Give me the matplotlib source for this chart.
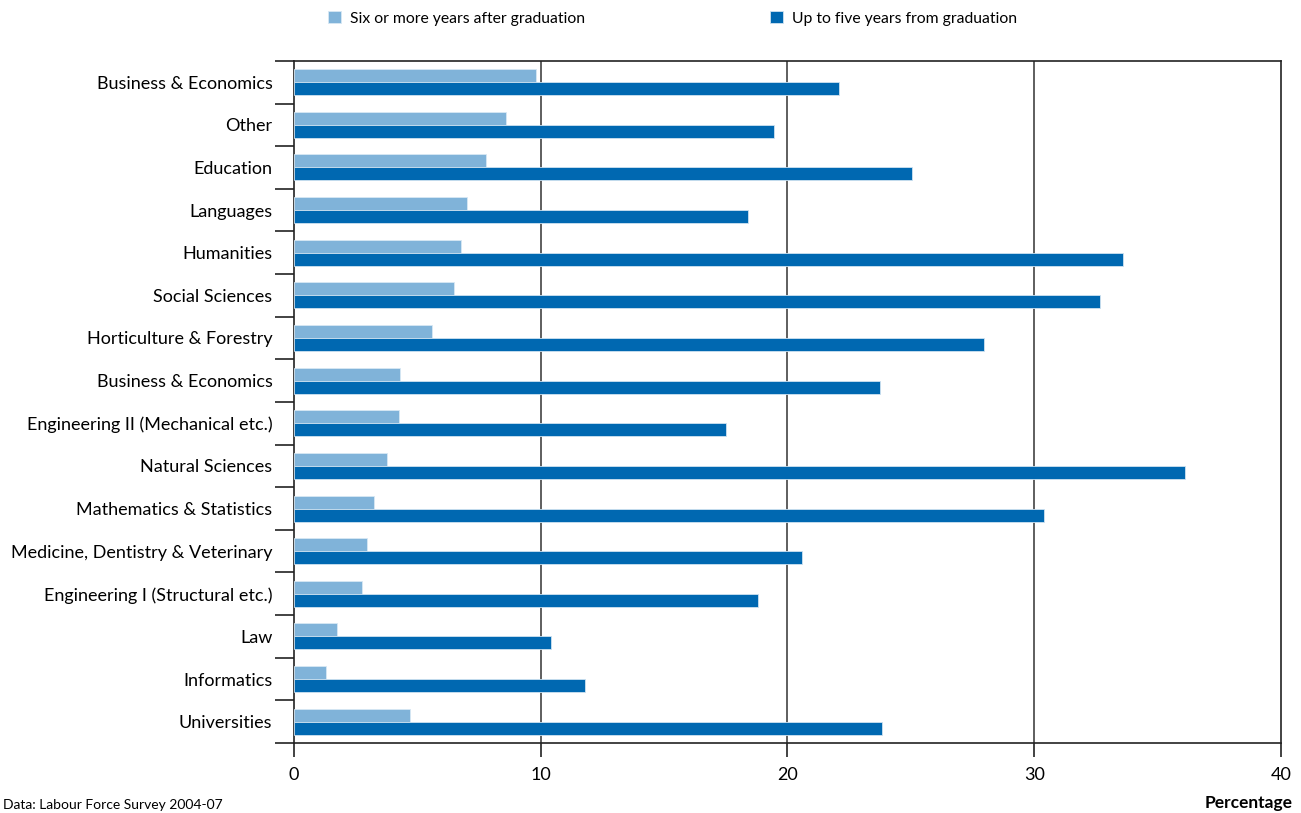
import matplotlib.pyplot as plt
import numpy as np

plt.rcParams['font.family'] = ['Lato', 'DejaVu Sans']

categories = ["Business & Economics", "Other", "Education", "Languages", "Humanities",
              "Social Sciences", "Horticulture & Forestry", "Business & Economics",
              "Engineering II (Mechanical etc.)", "Natural Sciences",
              "Mathematics & Statistics", "Medicine, Dentistry & Veterinary",
              "Engineering I (Structural etc.)", "Law", "Informatics", "Universities"]
six_plus = [9.8, 8.6, 7.8, 7.0, 6.75, 6.5, 5.6, 4.3, 4.25, 3.75,
            3.25, 2.95, 2.75, 1.75, 1.3, 4.7]
up_to_five = [22.1, 19.45, 25.05, 18.4, 33.6, 32.65, 27.95, 23.75, 17.5, 36.1,
              30.4, 20.6, 18.8, 10.4, 11.8, 23.85]
xticks = [0, 10, 20, 30, 40]

light = '#80b3d9'
dark = '#0068b1'

fig = plt.figure(figsize=(13.01, 8.13), dpi=100)
ax = fig.add_axes([0.226, 0.0861, 0.7586, 0.839])

y = np.arange(len(categories))
h = 0.305
ax.barh(y - h / 2, six_plus, height=h, color=light, edgecolor='#d8e8f4', linewidth=0.6,
        label='Six or more years after graduation', zorder=3)
ax.barh(y + h / 2, up_to_five, height=h, color=dark, edgecolor='#cfe2f1', linewidth=0.6,
        label='Up to five years from graduation', zorder=3)

ax.set_xlim(0, 40)
ax.set_ylim(len(categories) - 0.5, -0.5)
ax.set_xticks(xticks)
ax.set_xticklabels([str(t) for t in xticks], fontsize=13)
ax.tick_params(axis='x', length=10, width=1.2, color='#222222', pad=7)

ax.set_yticks(y)
ax.set_yticklabels(categories, fontsize=13)
ax.tick_params(axis='y', which='major', length=0, pad=15.5)
ax.set_yticks(np.arange(-0.5, len(categories)), minor=True)
ax.tick_params(axis='y', which='minor', length=14, width=1.2, color='#222222')

for t in xticks[1:-1]:
    ax.axvline(t, color='#333333', lw=1.1, zorder=1)
for s in ax.spines.values():
    s.set_color('#222222')
    s.set_linewidth(1.2)

fig.legend(loc='upper left', bbox_to_anchor=(0.241, 1.004), ncol=2, frameon=False,
           fontsize=11.3, handlelength=0.85, handleheight=0.85, handletextpad=0.55,
           columnspacing=11.8)

fig.text(0.9935, 0.012, 'Percentage', ha='right', va='center', fontsize=12.5,
         fontweight='bold')
fig.text(0.002, 0.002, 'Data: Labour Force Survey 2004-07', ha='left', va='bottom',
         fontsize=10)

fig.savefig('out.png', dpi=100)
